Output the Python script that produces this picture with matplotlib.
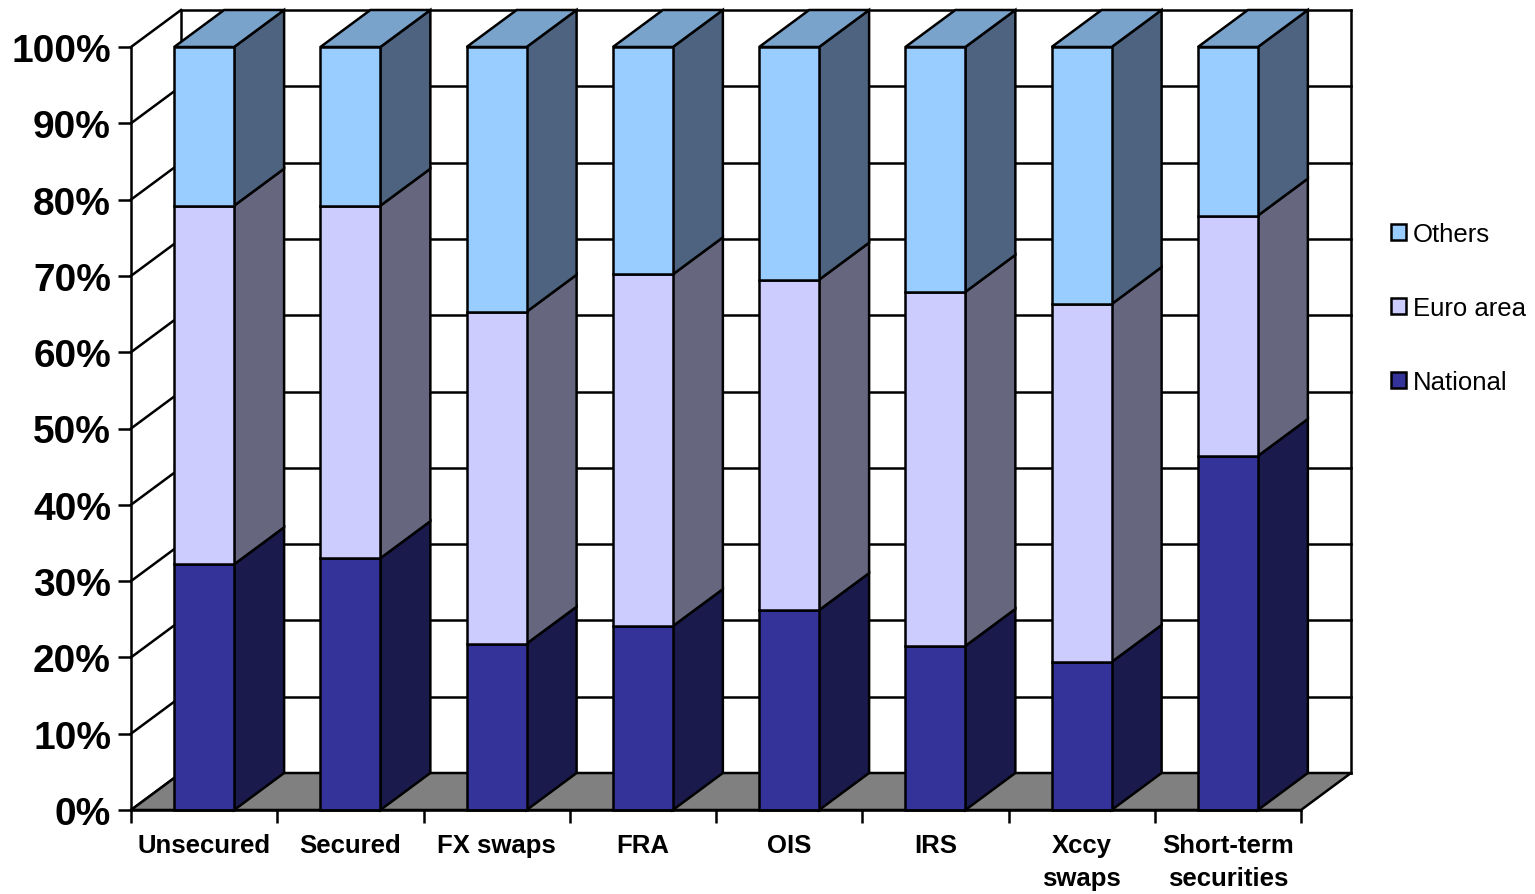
import matplotlib
matplotlib.use("Agg")
import matplotlib.pyplot as plt
from matplotlib.patches import Patch, Polygon
import numpy as np

plt.rcParams["font.family"] = ["Liberation Sans", "DejaVu Sans"]

# datos (% del total)
categorias = ["Unsecured", "Secured", "FX swaps", "FRA", "OIS", "IRS", "Xccy\nswaps", "Short-term\nsecurities"]
national = [32.2, 33.0, 21.8, 24.1, 26.2, 21.5, 19.4, 46.4]
euro_area = [47.0, 46.2, 43.5, 46.1, 43.3, 46.4, 46.9, 31.5]
others = [20.8, 20.8, 34.7, 29.8, 30.5, 32.1, 33.7, 22.1]
y_ticks = [0, 10, 20, 30, 40, 50, 60, 70, 80, 90, 100]
y_labels = ["0%", "10%", "20%", "30%", "40%", "50%", "60%", "70%", "80%", "90%", "100%"]

# colores: frente, lateral, tapa
series = [
    ("National", national, "#333399", "#1A1A4D"),
    ("Euro area", euro_area, "#CCCCFF", "#66667F"),
    ("Others", others, "#99CCFF", "#4D6380"),
]
color_tapa = "#7AA3CC"
color_piso = "#808080"

ancho_barra = 0.41
prof_x = 50 / 146.25  # efecto 3D en unidades de datos
prof_y = 37 / 7.63
lw = 1.8

fig = plt.figure(figsize=(15.35, 8.95), dpi=100)
ax = fig.add_axes([131 / 1535, 84 / 895, 1170 / 1535, 763 / 895])
ax.set_xlim(0, len(categorias))
ax.set_ylim(0, 100)


def atras(x, y):
    return x + prof_x, y + prof_y


def poly(puntos, color, z):
    ax.add_patch(Polygon(puntos, closed=True, facecolor=color, edgecolor="black",
                         linewidth=lw, clip_on=False, zorder=z, joinstyle="miter"))


def linea(xs, ys, z=1):
    ax.plot(xs, ys, color="black", lw=lw, clip_on=False, zorder=z, solid_capstyle="projecting")


n = len(categorias)

# paredes y grilla
for t in y_ticks:
    x1, y1 = atras(0, t)
    x2, y2 = atras(n, t)
    linea([x1, x2], [y1, y2])
    linea([0, x1], [t, y1])
x_izq, y_base = atras(0, 0)
x_der, y_tope = atras(n, 100)
linea([x_izq, x_izq], [y_base, y_tope])
linea([x_der, x_der], [y_base, y_tope])

# piso
poly([(0, 0), (n, 0), atras(n, 0), atras(0, 0)], color_piso, 2)

# barras apiladas
x = np.arange(n) + 0.5
base = np.zeros(n)
for nombre, valores, frente, lateral in series:
    valores = np.array(valores)
    for i in range(n):
        der = x[i] + ancho_barra / 2
        y0 = base[i]
        y1 = y0 + valores[i]
        poly([(der, y0), (der, y1), atras(der, y1), atras(der, y0)], lateral, 3)
    ax.bar(x, valores, ancho_barra, bottom=base, color=frente, edgecolor="black",
           linewidth=lw, clip_on=False, zorder=4)
    base = base + valores

for i in range(n):
    der = x[i] + ancho_barra / 2
    izq = x[i] - ancho_barra / 2
    y1 = base[i]
    poly([(izq, y1), (der, y1), atras(der, y1), atras(izq, y1)], color_tapa, 3)

# ejes
for lado in ["top", "right"]:
    ax.spines[lado].set_visible(False)
for lado in ["left", "bottom"]:
    ax.spines[lado].set_linewidth(lw)
    ax.spines[lado].set_zorder(5)
ax.patch.set_visible(False)

ax.set_yticks(y_ticks)
ax.set_yticklabels(y_labels, fontsize=28, fontweight="bold")
ax.tick_params(axis="y", length=9.4, width=lw, pad=5)

ax.set_xticks(np.arange(n + 1))
ax.set_xticklabels([])
ax.tick_params(axis="x", which="major", length=9.4, width=lw)
ax.set_xticks(x, minor=True)
ax.set_xticklabels(categorias, minor=True, fontsize=18.5, fontweight="bold", linespacing=1.48)
ax.tick_params(axis="x", which="minor", length=0, pad=16.5)

# leyenda
handles = [Patch(facecolor=s[2], edgecolor="black", linewidth=lw, label=s[0]) for s in reversed(series)]
fig.legend(handles=handles, loc="center left", bbox_to_anchor=(1391 / 1535, 1 - 309 / 895),
           frameon=False, fontsize=18.5, handlelength=0.6, handleheight=0.6,
           handletextpad=0.25, labelspacing=1.95, borderpad=0, borderaxespad=0)

fig.savefig("out.png", dpi=100)
